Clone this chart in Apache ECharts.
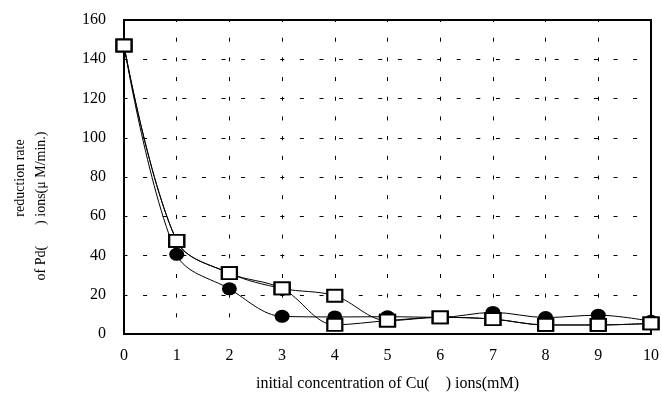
<!DOCTYPE html>
<html>
<head>
<meta charset="utf-8">
<script src="https://cdn.jsdelivr.net/npm/echarts@6/dist/echarts.min.js"></script>
<style>
  html, body { margin: 0; padding: 0; background: #fff; }
  #chart { width: 662px; height: 397px; }
</style>
</head>
<body>
<div id="chart"></div>
<script>
// initial Cu(II) concentration (mM)
const concentrations = [0, 1, 2, 3, 4, 5, 6, 7, 8, 9, 10];
// reduction rate, filled circles
const circleRates = [147, 40.6, 23, 9, 8.7, 8.8, 8.5, 11, 8.4, 9.6, 6.5];
// reduction rate, open squares (two runs, they split at 4 mM)
const squareRatesA = [147, 47.5, 31, 23.2, 19.5, 6.8, 8.5, 7.6, 4.6, 4.6, 5.4];
const squareRatesB = [147, 47.5, 31, 23.2, 4.7, 6.8, 8.5, 7.6, 4.6, 4.6, 5.4];
const yTicks = [0, 20, 40, 60, 80, 100, 120, 140, 160];

const FONT = 'Liberation Serif';

const chart = echarts.init(document.getElementById('chart'), null, { renderer: 'canvas' });

const pairs = vals => concentrations.map((x, i) => [x, vals[i]]);

const lineSeries = (vals, symbol, size, fill, z) => ({
  type: 'line',
  data: pairs(vals),
  smooth: 0.35,
  symbol: symbol,
  symbolSize: size,
  showSymbol: true,
  z: z,
  lineStyle: { color: '#000', width: 1 },
  itemStyle: { color: fill, borderColor: '#000', borderWidth: fill === '#fff' ? 2 : 0 },
  emphasis: { disabled: true },
});

const options = {
  animation: false,
  grid: {
    left: 124, right: 9, top: 20, bottom: 62,
    show: true, borderColor: '#000', borderWidth: 2,
  },
  xAxis: {
    type: 'value',
    min: 0, max: 10, interval: 1,
    name: 'initial concentration of Cu(    ) ions(mM)',
    nameLocation: 'middle',
    nameGap: 42,
    nameTextStyle: { fontFamily: FONT, fontSize: 16, color: '#000' },
    axisLine: { lineStyle: { color: '#000', width: 2 } },
    axisTick: { show: false },
    axisLabel: { fontFamily: FONT, fontSize: 16, color: '#000', margin: 14 },
    splitLine: {
      show: true,
      lineStyle: { color: '#000', width: 1, type: [4, 15.69], dashOffset: 2 },
    },
  },
  yAxis: {
    type: 'value',
    min: yTicks[0], max: yTicks[yTicks.length - 1], interval: 20,
    axisLine: { show: true, lineStyle: { color: '#000', width: 2 } },
    axisTick: { show: false },
    axisLabel: { fontFamily: FONT, fontSize: 16, color: '#000', margin: 18 },
    splitLine: {
      show: true,
      lineStyle: { color: '#000', width: 1, type: [4, 15.6], dashOffset: 0.5 },
    },
  },
  graphic: [
    {
      type: 'text', x: 20, y: 178, rotation: Math.PI / 2,
      style: { text: 'reduction rate', font: '14px "Liberation Serif"', fill: '#000',
               textAlign: 'center', textVerticalAlign: 'middle' },
    },
    {
      type: 'text', x: 41, y: 206, rotation: Math.PI / 2,
      style: { text: 'of Pd(      ) ions(μ M/min.)', font: '14px "Liberation Serif"', fill: '#000',
               textAlign: 'center', textVerticalAlign: 'middle' },
    },
  ],
  series: [
    lineSeries(circleRates, 'circle', [15, 13], '#000', 2),
    lineSeries(squareRatesA, 'rect', [15, 12], '#fff', 3),
    lineSeries(squareRatesB, 'rect', [15, 12], '#fff', 3),
  ],
};

chart.setOption(options);
</script>
</body>
</html>
